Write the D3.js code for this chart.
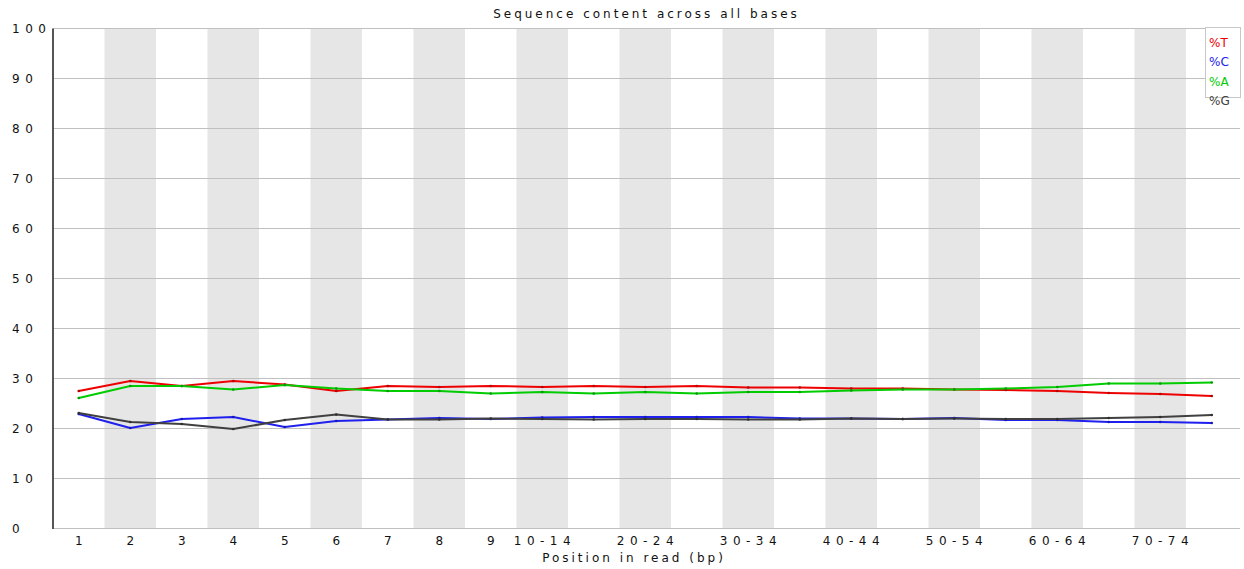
<!DOCTYPE html>
<html>
<head>
<meta charset="utf-8">
<script src="https://cdn.jsdelivr.net/npm/d3@7"></script>
<style>
  html, body { margin: 0; padding: 0; background: #fff; }
  svg { display: block; }
  text { font-family: "DejaVu Sans", sans-serif; }
</style>
</head>
<body>
<div id="chart"></div>
<script>
const categories = ["1","2","3","4","5","6","7","8","9","10-14","15-19","20-24","25-29","30-34","35-39","40-44","45-49","50-54","55-59","60-64","65-69","70-74","75-76"];
const xTickLabels = ["1","2","3","4","5","6","7","8","9","10-14","","20-24","","30-34","","40-44","","50-54","","60-64","","70-74",""];
const yTicks = [0,10,20,30,40,50,60,70,80,90,100];
const seriesNames = ["%T","%C","%A","%G"];
const valuesT = [27.5,29.5,28.5,29.5,28.8,27.5,28.5,28.3,28.5,28.3,28.5,28.3,28.5,28.2,28.2,28.0,28.0,27.8,27.7,27.5,27.1,26.9,26.5];
const valuesC = [22.9,20.1,21.9,22.3,20.3,21.5,21.8,22.1,21.9,22.2,22.3,22.3,22.3,22.3,22.0,22.0,21.9,22.1,21.7,21.7,21.3,21.3,21.1];
const valuesA = [26.1,28.5,28.5,27.8,28.7,28.0,27.5,27.5,27.0,27.3,27.0,27.3,27.0,27.3,27.3,27.6,27.8,27.8,28.0,28.3,29.0,29.0,29.2];
const valuesG = [23.1,21.3,20.9,19.9,21.7,22.8,21.8,21.8,22.0,21.9,21.8,21.9,21.9,21.8,21.8,22.0,21.9,22.0,21.9,21.9,22.1,22.3,22.7];
const seriesColors = ["#ee0000","#2020ee","#00cc00","#404040"];

const W = 1244, H = 569;
const margin = {left: 53, right: 6.5, top: 28.5, bottom: 40.5};

const svg = d3.select("#chart").append("svg").attr("width", W).attr("height", H);

const x = d3.scaleBand().domain(categories).range([margin.left, W - margin.right]).padding(0);
const y = d3.scaleLinear().domain([0, 100]).range([H - margin.bottom, margin.top]);

// alternating bands
svg.append("g").selectAll("rect")
  .data(categories.filter((d, i) => i % 2 === 1))
  .join("rect")
  .attr("x", d => x(d))
  .attr("y", y(100))
  .attr("width", x.bandwidth())
  .attr("height", y(0) - y(100))
  .attr("fill", "#e6e6e6");

// gridlines
svg.append("g").selectAll("line")
  .data(yTicks)
  .join("line")
  .attr("x1", margin.left)
  .attr("x2", W - 4)
  .attr("y1", d => y(d))
  .attr("y2", d => y(d))
  .attr("stroke", "#c0c0c0")
  .attr("stroke-width", 1);

// y axis
const yAxis = svg.append("g")
  .attr("transform", `translate(${margin.left},0)`)
  .call(d3.axisLeft(y).tickValues(yTicks).tickSize(0).tickFormat(d3.format("d")));
yAxis.select(".domain").remove();
yAxis.selectAll("text")
  .attr("text-anchor", "start")
  .attr("x", 12 - margin.left)
  .attr("dy", "0.35em")
  .attr("fill", "#111")
  .style("font-size", "12px")
  .style("letter-spacing", "5.5px");
svg.append("line")
  .attr("x1", margin.left).attr("x2", margin.left)
  .attr("y1", y(100)).attr("y2", y(0) + 0.5)
  .attr("stroke", "#555").attr("stroke-width", 2);

// x axis
const xAxis = svg.append("g")
  .attr("transform", `translate(0,${y(0)})`)
  .call(d3.axisBottom(x).tickSize(0).tickFormat((d, i) => xTickLabels[i]));
xAxis.select(".domain").remove();
xAxis.selectAll("text")
  .attr("y", 8)
  .attr("dy", "0.71em")
  .attr("dx", "2.7px")
  .attr("fill", "#111")
  .style("font-size", "12px")
  .style("letter-spacing", "5.5px");

// lines
const allSeries = [valuesT, valuesC, valuesA, valuesG];
const line = d3.line()
  .x((d, i) => x(categories[i]) + x.bandwidth() / 2)
  .y(d => y(d));

allSeries.forEach((vals, si) => {
  svg.append("path")
    .datum(vals)
    .attr("d", line)
    .attr("fill", "none")
    .attr("stroke", seriesColors[si])
    .attr("stroke-width", 2)
    .attr("stroke-linejoin", "round");
  svg.append("g").selectAll("circle")
    .data(vals)
    .join("circle")
    .attr("cx", (d, i) => x(categories[i]) + x.bandwidth() / 2)
    .attr("cy", d => y(d))
    .attr("r", 1.3)
    .attr("fill", d3.color(seriesColors[si]).darker(0.8));
});

// title
svg.append("text")
  .attr("x", 646.5)
  .attr("y", 18)
  .attr("text-anchor", "middle")
  .attr("fill", "#111")
  .style("font-size", "12px")
  .style("letter-spacing", "3px")
  .text("Sequence content across all bases");

// x title
svg.append("text")
  .attr("x", 634)
  .attr("y", 562)
  .attr("text-anchor", "middle")
  .attr("fill", "#111")
  .style("font-size", "12px")
  .style("letter-spacing", "3px")
  .text("Position in read (bp)");

// legend
const lg = svg.append("g");
lg.append("rect")
  .attr("x", 1205.5).attr("y", 27.5)
  .attr("width", 35).attr("height", 70)
  .attr("fill", "#fff").attr("stroke", "#c8c8c8");
seriesNames.forEach((n, i) => {
  lg.append("text")
    .attr("x", 1209)
    .attr("y", 47 + i * 19.3)
    .attr("fill", seriesColors[i])
    .style("font-size", "12px")
    .text(n);
});
</script>
</body>
</html>
